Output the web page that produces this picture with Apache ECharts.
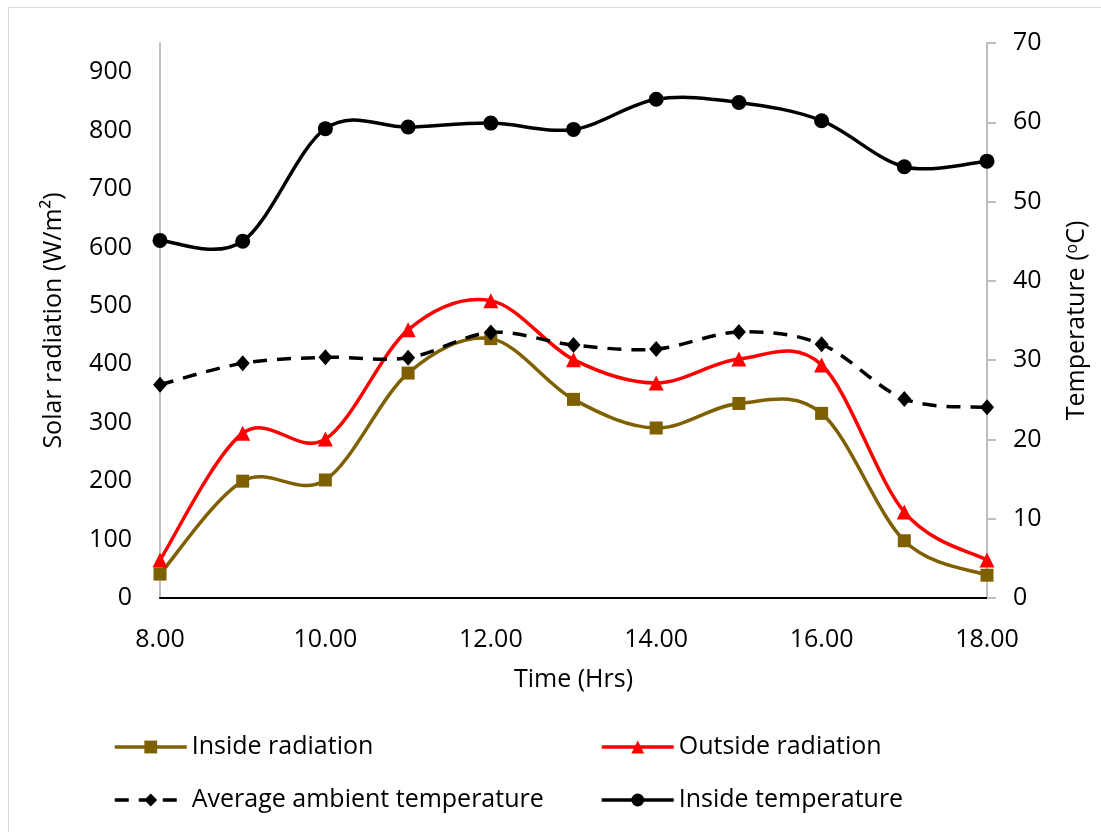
<!DOCTYPE html>
<html>
<head>
<meta charset="utf-8">
<script src="https://cdn.jsdelivr.net/npm/echarts@6/dist/echarts.min.js"></script>
<style>
  html, body { margin: 0; padding: 0; background: #fff; }
  #chart { width: 1101px; height: 832px; }
</style>
</head>
<body>
<div id="chart"></div>
<script>
// Hourly readings, 8:00 to 18:00
const hours = [8, 9, 10, 11, 12, 13, 14, 15, 16, 17, 18];
const insideRadiation = [41, 200, 202, 385, 444, 340, 291, 333, 316, 98, 39];
const outsideRadiation = [65, 282, 272, 459, 509, 408, 368, 409, 399, 147, 65];
const ambientTemperature = [26.9, 29.6, 30.35, 30.3, 33.5, 31.9, 31.4, 33.55, 32.0, 25.1, 24.05];
const insideTemperature = [45.1, 45.0, 59.2, 59.4, 59.9, 59.1, 62.9, 62.5, 60.2, 54.4, 55.1];

const pairs = (vals) => hours.map((h, i) => [h, vals[i]]);

const FONT = 'Open Sans';
const BROWN = '#7F6000', RED = '#FF0000', BLACK = '#000000';
const LINE_W = 3.5;
const DASH = [14, 10];

// Cardinal (Catmull-Rom style) spline through the projected points
function splinePath(pts) {
  let d = 'M' + pts[0][0] + ' ' + pts[0][1];
  for (let i = 0; i < pts.length - 1; i++) {
    const p0 = pts[Math.max(i - 1, 0)];
    const p1 = pts[i];
    const p2 = pts[i + 1];
    const p3 = pts[Math.min(i + 2, pts.length - 1)];
    const c1x = p1[0] + (p2[0] - p0[0]) / 6;
    const c1y = p1[1] + (p2[1] - p0[1]) / 6;
    const c2x = p2[0] - (p3[0] - p1[0]) / 6;
    const c2y = p2[1] - (p3[1] - p1[1]) / 6;
    d += ' C' + c1x + ' ' + c1y + ' ' + c2x + ' ' + c2y + ' ' + p2[0] + ' ' + p2[1];
  }
  return d;
}

// Smooth curve drawn once per series, positioned through the axes' scales
function curveSeries(vals, axisIndex, color, dash, z) {
  return {
    type: 'custom',
    yAxisIndex: axisIndex,
    data: pairs(vals),
    silent: true,
    z: z,
    renderItem: function (params, api) {
      if (params.dataIndex !== 0) return null;
      const pts = hours.map((h, i) => api.coord([h, vals[i]]));
      return {
        type: 'path',
        shape: { pathData: splinePath(pts) },
        style: { fill: 'none', stroke: color, lineWidth: LINE_W, lineDash: dash || null }
      };
    }
  };
}

function markerSeries(name, vals, axisIndex, color, symbol, size, z) {
  return {
    name: name,
    type: 'line',
    yAxisIndex: axisIndex,
    data: pairs(vals),
    symbol: symbol,
    symbolSize: size,
    itemStyle: { color: color },
    lineStyle: { width: 0, color: color },
    z: z
  };
}

const chart = echarts.init(document.getElementById('chart'), null, { renderer: 'canvas' });

const legendText = { fontSize: 25, fontFamily: FONT, color: '#000', lineHeight: 28 };

chart.setOption({
  backgroundColor: '#fff',
  textStyle: { fontFamily: FONT, color: '#000' },
  graphic: [{
    type: 'rect',
    shape: { x: 8.5, y: 7.5, width: 1100, height: 830 },
    style: { fill: 'none', stroke: '#D9D9D9', lineWidth: 1 },
    silent: true
  }],
  grid: { left: 160, right: 114, top: 43, bottom: 234 },
  xAxis: {
    type: 'value',
    min: 8, max: 18, interval: 2,
    name: 'Time (Hrs)',
    nameLocation: 'middle',
    nameGap: 69,
    nameTextStyle: { fontSize: 25, fontFamily: FONT, color: '#000' },
    axisLine: { show: true, onZero: false, lineStyle: { color: '#000', width: 2 } },
    axisTick: { show: false },
    splitLine: { show: false },
    axisLabel: { fontSize: 25, fontFamily: FONT, color: '#000', margin: 29,
      formatter: (v) => v.toFixed(2) }
  },
  yAxis: [{
    type: 'value',
    min: 0, max: 950, interval: 100,
    position: 'left',
    name: 'Solar radiation (W/m²)',
    nameLocation: 'middle',
    nameRotate: 90,
    nameGap: 94,
    nameTextStyle: { fontSize: 25, fontFamily: FONT, color: '#000' },
    axisLine: { show: true, lineStyle: { color: '#BFBFBF', width: 2 } },
    axisTick: { show: false },
    splitLine: { show: false },
    axisLabel: { fontSize: 25, fontFamily: FONT, color: '#000', margin: 28, showMaxLabel: false }
  }, {
    type: 'value',
    min: 0, max: 70, interval: 10,
    position: 'right',
    name: 'Temperature ({sup|o}C)',
    nameLocation: 'middle',
    nameRotate: 90,
    nameGap: 77,
    nameTextStyle: { fontSize: 25, fontFamily: FONT, color: '#000',
      rich: { sup: { fontSize: 16, fontFamily: FONT, color: '#000', verticalAlign: 'top', padding: [0, 0, 9, 0] } } },
    axisLine: { show: true, lineStyle: { color: '#BFBFBF', width: 2 } },
    axisTick: { show: true, inside: false, length: 9, lineStyle: { color: '#BFBFBF', width: 2 } },
    splitLine: { show: false },
    axisLabel: { fontSize: 25, fontFamily: FONT, color: '#000', margin: 26 }
  }],
  legend: [{
    orient: 'vertical',
    left: 113, top: 733, padding: 0,
    itemWidth: 72, itemHeight: 16, itemGap: 25,
    textStyle: legendText,
    data: [
      { name: 'Inside radiation', lineStyle: { width: LINE_W, color: BROWN, type: 'solid', opacity: 1 } },
      { name: 'Average ambient temperature', lineStyle: { width: LINE_W, color: BLACK, type: DASH, opacity: 1 } }
    ]
  }, {
    orient: 'vertical',
    left: 600, top: 733, padding: 0,
    itemWidth: 72, itemHeight: 16, itemGap: 25,
    textStyle: legendText,
    data: [
      { name: 'Outside radiation', lineStyle: { width: LINE_W, color: RED, type: 'solid', opacity: 1 } },
      { name: 'Inside temperature', lineStyle: { width: LINE_W, color: BLACK, type: 'solid', opacity: 1 } }
    ]
  }],
  series: [
    curveSeries(insideRadiation, 0, BROWN, null, 2),
    curveSeries(outsideRadiation, 0, RED, null, 2),
    curveSeries(ambientTemperature, 1, BLACK, DASH, 2),
    curveSeries(insideTemperature, 1, BLACK, null, 2),
    markerSeries('Inside radiation', insideRadiation, 0, BROWN, 'rect', 13, 5),
    markerSeries('Outside radiation', outsideRadiation, 0, RED, 'triangle', 15, 5),
    markerSeries('Average ambient temperature', ambientTemperature, 1, BLACK, 'diamond', [14, 16], 5),
    markerSeries('Inside temperature', insideTemperature, 1, BLACK, 'circle', 15, 5)
  ]
});
</script>
</body>
</html>
